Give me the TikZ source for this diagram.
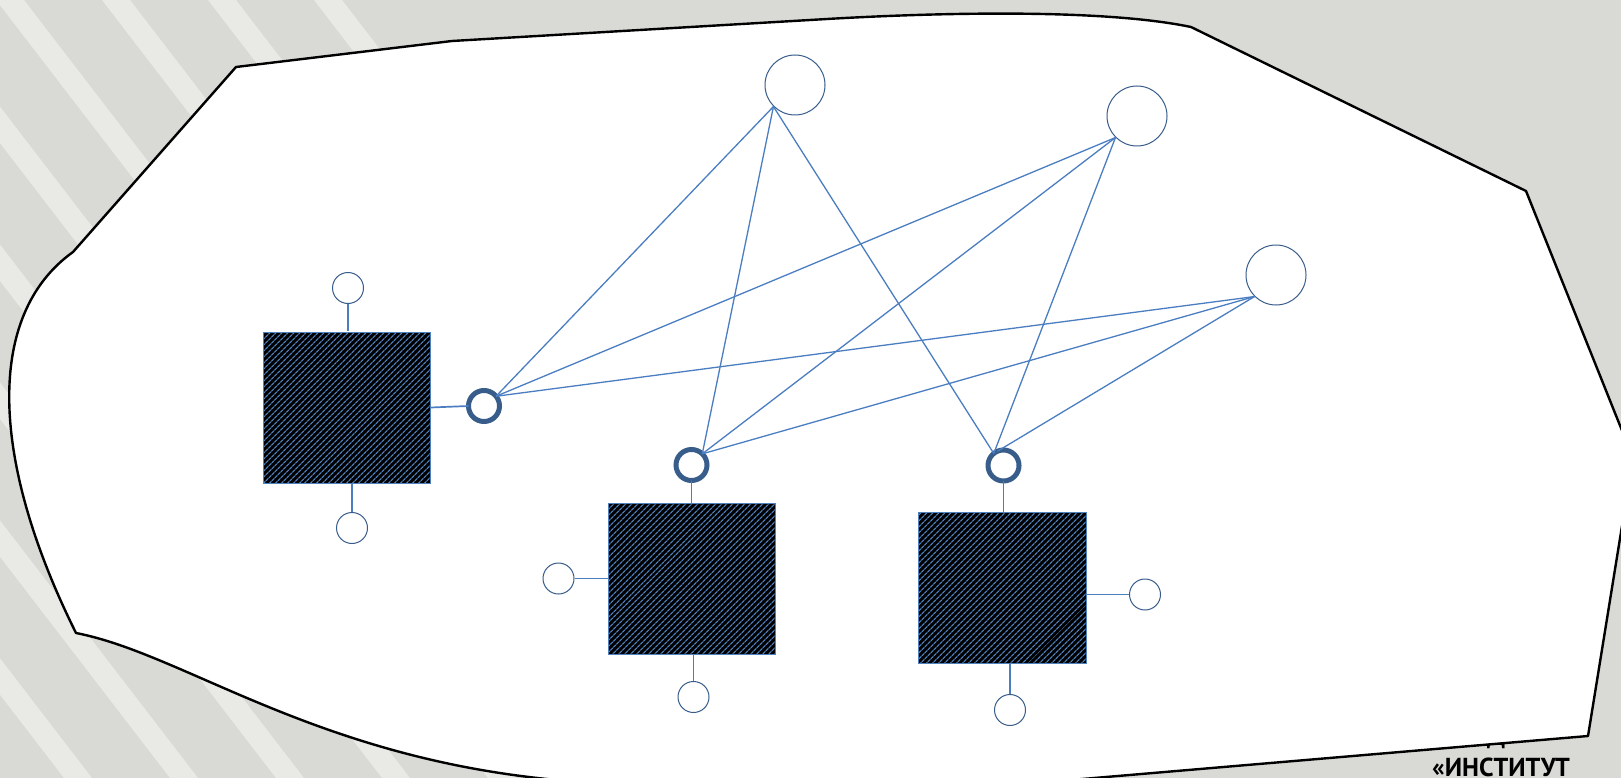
\documentclass[tikz,border=0pt]{standalone}
\usepackage{fontspec}
\newfontfamily\ptsans{PT Sans}
\usetikzlibrary{patterns.meta}
\definecolor{bggray}{RGB}{217,217,213}
\definecolor{bgstripe}{RGB}{233,233,230}
\definecolor{linkblue}{RGB}{74,126,193}
\definecolor{ringblue}{RGB}{56,93,138}
\definecolor{hatchblue}{RGB}{79,129,189}
\tikzset{
    big/.style={circle, draw=ringblue, line width=1pt, minimum size=60pt, inner sep=0pt, fill=white},
    dot/.style={circle, draw=ringblue, line width=1pt, minimum size=31pt, inner sep=0pt, fill=white},
    ring/.style={circle, draw=ringblue, line width=5pt, minimum size=31pt, inner sep=0pt, outer sep=0pt, fill=white},
    box/.style={rectangle, draw=hatchblue, line width=1pt, minimum width=167pt, minimum height=151pt,
        inner sep=0pt, preaction={fill=black},
        pattern={Lines[angle=45, distance=4pt, line width=1.3pt]}, pattern color=hatchblue},
    link/.style={draw=linkblue, line width=1.3pt},
    stub/.style={draw=linkblue, line width=1.7pt},
    caption/.style={font=\ptsans\bfseries\fontsize{26}{26}\selectfont, inner sep=0pt, anchor=base},
}
\begin{document}
\begin{tikzpicture}[x=1pt, y=-1pt]
    \useasboundingbox (0,0) rectangle (1621,778);
    \clip (0,0) rectangle (1621,778);
    % Background
    \fill [bggray] (0,0) rectangle (1621,778);
    \foreach \k in {-6,...,3}{
        \fill [bgstripe] (-4+106*\k,0) -- ++(28,0) -- ++(598,778) -- ++(-28,0) -- cycle;
    }
    \node [caption] (txt1) at (1496,745) {Д};
    \node [caption] (txt2) at (1501,776) {«ИНСТИТУТ};
    % Outline
    \draw [fill=white, line width=2.4pt, line join=round]
        (73,252) -- (236,67) -- (452,41) -- (827,19)
        .. controls (930,13) and (1100,8) .. (1191,27)
        -- (1526,191) -- (1633,458) -- (1588,736) -- (1000,786) -- (600,783)
        .. controls (330,770) and (190,655) .. (76,633)
        .. controls (-10,460) and (-15,315) .. (73,252) -- cycle;
    % Sources
    \node [big] (t1) at (795,85) {};
    \node [big] (t2) at (1137,116) {};
    \node [big] (t3) at (1276,275) {};
    % Units
    \node [box] (ba) at (346.5,407.5) {};
    \node [box] (bb) at (691.5,578.5) {};
    \node [box, minimum width=168pt] (bc) at (1002,587.5) {};
    \node [dot] (a1) at (348,288) {};
    \node [dot] (a2) at (352,528) {};
    \node [dot] (b1) at (558.5,578.5) {};
    \node [dot] (b2) at (693.5,697) {};
    \node [dot] (c1) at (1145,594.5) {};
    \node [dot] (c2) at (1010,710) {};
    \draw [stub] (a1) -- (a1 |- ba.north);
    \draw [stub] (a2) -- (a2 |- ba.south);
    \draw [stub] (b1) -- (b1 -| bb.west);
    \draw [stub] (b2) -- (b2 |- bb.south);
    \draw [stub] (c1) -- (c1 -| bc.east);
    \draw [stub] (c2) -- (c2 |- bc.south);
    % Hubs
    \node [ring] (ha) at (484,406) {};
    \node [ring] (hb) at (691.5,465) {};
    \node [ring] (hc) at (1003.5,465.5) {};
    \draw [stub] (ba.east) -- (ha.west);
    \draw [stub] (hb) -- (hb |- bb.north);
    \draw [stub] (hc) -- (hc |- bc.north);
    % Links
    \foreach \t in {t1,t2}{
        \draw [link] (\t.south west) -- (ha.39);
        \draw [link] (\t.south west) -- (hb.46);
        \draw [link] (\t.south west) -- (hc.129);
    }
    \draw [link] (t3.south west) -- (ha.39);
    \draw [link] (t3.south west) -- (hb.46);
    \draw [link] (t3.south west) -- (hc.113);
\end{tikzpicture}
\end{document}
